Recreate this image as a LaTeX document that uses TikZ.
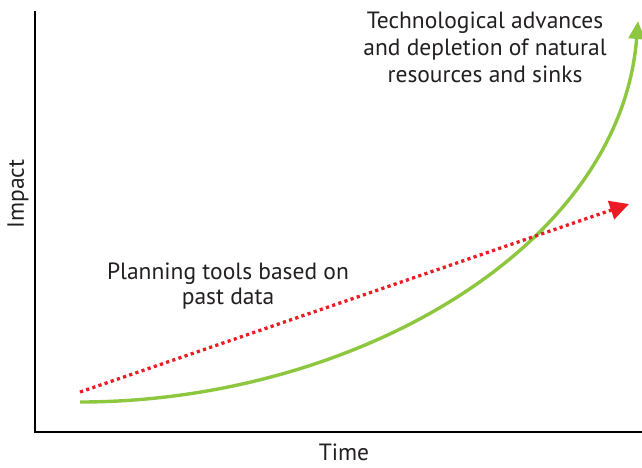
\documentclass[tikz,border=0pt]{standalone}
\usepackage{fontspec}
\setmainfont{PT Sans}
\usetikzlibrary{arrows.meta}
\definecolor{curvegreen}{RGB}{141,198,63}
\definecolor{planred}{RGB}{237,28,36}
\definecolor{textdark}{RGB}{35,31,32}
\tikzset{
  axisline/.style={line width=2pt, black},
  growth/.style={line width=3.4pt, curvegreen, -{Triangle[length=18pt,width=16pt]}},
  plan/.style={line width=3.3pt, planred, dash pattern=on 3.2pt off 3.3pt, -{Triangle[length=19pt,width=19pt]}},
  lbl/.style={font=\fontsize{23.5}{27}\selectfont, align=center, inner sep=0pt, text=textdark},
}
\begin{document}
\begin{tikzpicture}[x=1pt,y=-1pt]
\useasboundingbox (0,0) rectangle (642,467);
\coordinate (top) at (35,11);
\coordinate (origin) at (35,432);
\coordinate (right) at (642,432);
\draw[axisline] (top) -- (origin) -- (right);
\node[lbl, rotate=90] (impact) at (18,194) {Impact};
\node[lbl] (time) at (344,452.5) {Time};
\coordinate (gstart) at (80,402);
\coordinate (gend) at (638,21);
\draw[growth] (gstart) .. controls (350,402) and (620,250) .. (gend);
\coordinate (rstart) at (80,392);
\coordinate (rend) at (629,204);
\draw[plan] (rstart) -- (rend);
\node[lbl] (tech) at (485,47) {Technological advances\\and depletion of natural\\resources and sinks};
\node[lbl, font=\fontsize{23.5}{25}\selectfont] (planning) at (228,286) {Planning tools based on\\past data};
\end{tikzpicture}
\end{document}
